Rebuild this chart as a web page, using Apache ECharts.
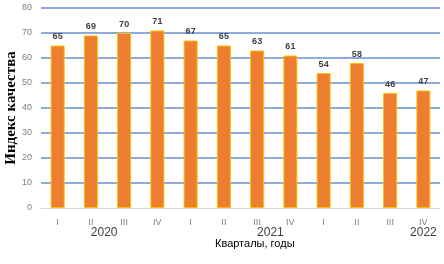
<!DOCTYPE html>
<html>
<head>
<meta charset="utf-8">
<script src="https://cdn.jsdelivr.net/npm/echarts@6/dist/echarts.min.js"></script>
<style>
  html, body { margin: 0; padding: 0; background: #fff; }
  #chart { width: 444px; height: 264px; }
</style>
</head>
<body>
<div id="chart"></div>
<script>
// quarters 2020 I .. 2022 IV
const quarters = ["I", "II", "III", "IV", "I", "II", "III", "IV", "I", "II", "III", "IV"];
const qualityIndex = [65, 69, 70, 71, 67, 65, 63, 61, 54, 58, 46, 47];
const yearLabels = ["2020", "2021", "2022"];
const yearPositions = [1.4, 6.4, 11];
const yTicks = [0, 10, 20, 30, 40, 50, 60, 70, 80];

const chart = echarts.init(document.getElementById("chart"));

chart.setOption({
  animation: false,
  grid: { left: 41, right: 4, top: 8, bottom: 56, outerBoundsMode: "none", containLabel: false },
  xAxis: [
    {
      type: "category",
      data: quarters,
      axisLine: { lineStyle: { color: "#d9d9d9", width: 1 } },
      axisTick: { show: false },
      axisLabel: { color: "#7f7f7f", fontSize: 9, fontFamily: "Liberation Sans", margin: 10 }
    },
    {
      type: "value",
      position: "bottom",
      min: -0.5,
      max: 11.5,
      axisLine: { show: false },
      axisTick: { show: false },
      splitLine: { show: false },
      axisLabel: {
        customValues: yearPositions,
        formatter: (v) => yearLabels[yearPositions.indexOf(v)] || "",
        color: "#404040",
        fontSize: 12,
        fontFamily: "Liberation Sans",
        margin: 19
      }
    }
  ],
  yAxis: {
    type: "value",
    min: yTicks[0],
    max: yTicks[yTicks.length - 1],
    interval: 10,
    name: "Индекс качества",
    nameLocation: "middle",
    nameGap: 22,
    nameMoveOverlap: false,
    nameTextStyle: { fontFamily: "Liberation Serif", fontWeight: "bold", fontSize: 15, color: "#000" },
    axisLine: { show: false },
    axisTick: { show: false },
    axisLabel: { color: "#7f7f7f", fontSize: 9, fontFamily: "Liberation Sans", margin: 9 },
    splitLine: {
      lineStyle: {
        color: ["#ffffff", "#8faadc", "#8faadc", "#8faadc", "#8faadc", "#8faadc", "#8faadc", "#8faadc", "#8faadc"],
        width: 2
      }
    }
  },
  series: [{
    type: "bar",
    data: qualityIndex,
    barWidth: 14,
    itemStyle: { color: "#ed7d31", borderColor: "#ffc000", borderWidth: 1 },
    label: {
      show: true,
      position: "top",
      distance: 4,
      color: "#404040",
      fontSize: 9,
      fontWeight: "bold",
      fontFamily: "Liberation Sans"
    }
  }],
  graphic: [{
    type: "text",
    left: 215,
    top: 238,
    style: { text: "Кварталы, годы", fill: "#000", fontSize: 11, fontFamily: "Liberation Sans" }
  }]
});
</script>
</body>
</html>
